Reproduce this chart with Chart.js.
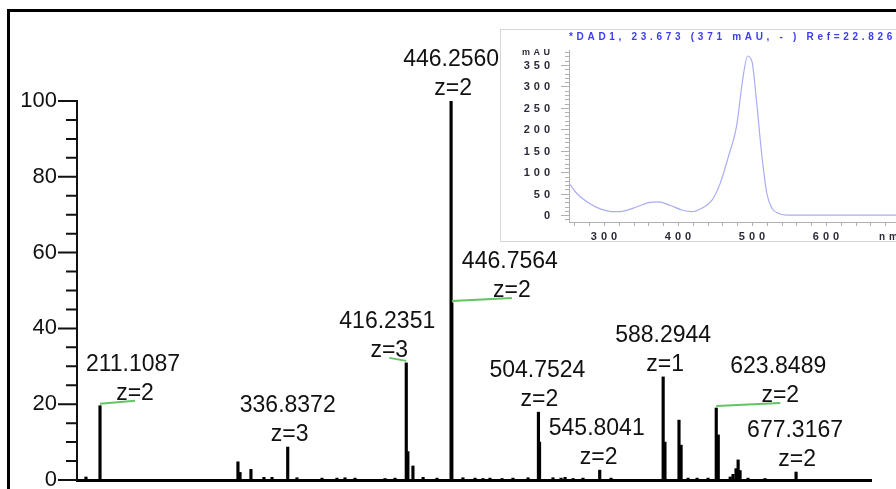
<!DOCTYPE html>
<html>
<head>
<meta charset="utf-8">
<script src="https://cdn.jsdelivr.net/npm/chart.js@4.4.1/dist/chart.umd.min.js"></script>
<style>
  html, body { margin: 0; padding: 0; width: 896px; height: 489px; overflow: hidden; background: #fff; }
  #frame { position: absolute; left: 7px; top: 9px; width: 1000px; height: 600px; border: 3px solid #000; box-sizing: border-box; }
  #ms { position: absolute; left: 0; top: 0; }
  #uvBox { position: absolute; left: 500px; top: 29px; width: 420px; height: 213px; border: 1px solid #d6d6d6; background: #fff; box-sizing: border-box; }
  #uv { position: absolute; left: 0; top: 0; }
</style>
</head>
<body>
<div id="frame"></div>
<canvas id="ms" width="896" height="489"></canvas>
<div id="uvBox"><canvas id="uv" width="395" height="211"></canvas></div>

<script>
// ---- Mass spectrum: annotated ions ----
const ionMz        = [211.1087, 336.8372, 416.2351, 446.2560, 446.7564, 504.7524, 545.8041, 588.2944, 623.8489, 677.3167];
const ionIntensity = [19.6, 8.7, 30.9, 100, 46.7, 17.9, 2.6, 27.2, 19.0, 2.1];
const ionCharge    = [2, 3, 3, 2, 2, 2, 2, 1, 2, 2];

// ---- Mass spectrum: remaining centroids (isotopes, shoulders, noise) ----
const minorMz = [201.7, 303.5, 304.9, 312.2, 320.9, 326.3, 343.0, 359.8, 369.8, 375.2, 381.9, 402.0, 408.7,
                 417.3, 420.7, 427.5, 436.8, 454.2, 462.3, 467.6, 472.3, 480.4, 487.7, 497.8, 505.5, 514.5,
                 519.9, 522.6, 528.0, 534.6, 553.4, 589.5, 598.9, 600.3, 605.0, 611.0, 618.4, 625.2, 633.2,
                 635.1, 637.1, 638.5, 639.8, 645.1, 656.5];
const minorIntensity = [0.8, 4.8, 2.0, 2.8, 0.7, 0.7, 0.6, 0.5, 0.5, 0.6, 0.5, 0.4, 0.5,
                        7.5, 3.7, 0.7, 0.5, 0.6, 0.5, 0.4, 0.5, 0.4, 0.5, 0.6, 10.0, 0.6,
                        0.5, 0.7, 0.4, 0.5, 0.5, 10.0, 15.8, 9.2, 0.5, 0.5, 0.5, 11.9, 0.8,
                        1.5, 3.0, 5.3, 2.5, 0.5, 0.4];

const yTickValues = [0, 20, 40, 60, 80, 100];

// ---- UV-Vis spectrum (DAD) ----
const uvNm  = [253, 263, 277, 290, 304, 315, 328, 344, 360, 373, 389, 405, 418, 432, 446, 457, 468, 479, 488, 494, 500, 506, 513, 520, 527, 536, 551, 600, 650, 695];
const uvMau = [74, 51, 31, 18, 10, 8, 10, 19, 29, 31, 23, 12, 8, 16, 35, 74, 136, 206, 323, 371, 358, 268, 144, 51, 16, 4, 0, 0, 0, 0];
const uvYLabels = [0, 50, 100, 150, 200, 250, 300, 350];
const uvXLabels = [300, 400, 500, 600];
const uvTitle = '*DAD1, 23.673 (371 mAU, - ) Ref=22.826';

// label placement (horizontal shift of each annotation, px) and which ions get an isotope marker
const labelShift = [33, 0, -19, 0, 58, -1, -3, 0, 62, -1];
const isotopeMarker = [true, false, true, false, true, false, false, false, true, false];

const msFont = '"Liberation Sans", Arial, Helvetica, sans-serif';

// ---------- mass spectrum ----------
const stickData = ionMz.map((x, i) => ({ x, y: ionIntensity[i] }))
  .concat(minorMz.map((x, i) => ({ x, y: minorIntensity[i] })))
  .sort((a, b) => a.x - b.x);

const msAxisTicks = {
  id: 'msAxisTicks',
  afterDraw(chart) {
    const ys = chart.scales.y, ctx = chart.ctx, left = chart.chartArea.left;
    ctx.save();
    ctx.strokeStyle = '#111';
    ctx.lineWidth = 2;
    ctx.beginPath();
    for (let v = 0; v <= 100; v += 5) {
      const y = ys.getPixelForValue(v);
      const len = yTickValues.includes(v) ? 19 : 11;
      ctx.moveTo(left - len, y);
      ctx.lineTo(left, y);
    }
    ctx.stroke();
    ctx.restore();
  }
};

const msAnnotations = {
  id: 'msAnnotations',
  afterDatasetsDraw(chart) {
    const xs = chart.scales.x, ys = chart.scales.y, ctx = chart.ctx;
    ctx.save();
    // isotope markers
    ctx.strokeStyle = '#62c462';
    ctx.lineWidth = 2;
    ionMz.forEach((mz, i) => {
      if (!isotopeMarker[i]) return;
      const px = xs.getPixelForValue(mz), py = ys.getPixelForValue(ionIntensity[i]);
      ctx.beginPath();
      ctx.moveTo(px, py - 2);
      ctx.lineTo(px + labelShift[i] + 2, py - 5);
      ctx.stroke();
    });
    // m/z and charge labels
    ctx.fillStyle = '#111';
    ctx.font = '23px ' + msFont;
    ctx.textAlign = 'center';
    ctx.textBaseline = 'alphabetic';
    ionMz.forEach((mz, i) => {
      const px = xs.getPixelForValue(mz), py = ys.getPixelForValue(ionIntensity[i]);
      const cx = px + labelShift[i];
      ctx.fillText(mz.toFixed(4), cx, py - 35);
      ctx.fillText('z=' + ionCharge[i], cx + 2, py - 6);
    });
    ctx.restore();
  }
};

new Chart(document.getElementById('ms'), {
  type: 'bar',
  data: {
    datasets: [{
      data: stickData,
      backgroundColor: '#000',
      borderWidth: 0,
      barThickness: 2.5
    }]
  },
  options: {
    responsive: false,
    animation: false,
    events: [],
    layout: { padding: { left: 0, top: 101, right: 25, bottom: 0 } },
    plugins: { legend: { display: false }, tooltip: { enabled: false } },
    scales: {
      x: {
        type: 'linear',
        min: 195.7,
        max: 727.5,
        offset: false,
        ticks: { display: false },
        grid: { display: false, offset: false },
        border: { display: true, color: '#000', width: 3 },
        afterFit(s) { s.height = 9; s.paddingLeft = 0; s.paddingRight = 0; }
      },
      y: {
        min: 0,
        max: 100,
        ticks: {
          stepSize: 20,
          autoSkip: false,
          padding: 3,
          color: '#111',
          font: { family: msFont, size: 22 },
          callback: v => (yTickValues.includes(v) ? String(v) : '')
        },
        grid: { display: true, drawOnChartArea: false, drawTicks: true, tickLength: 17, tickColor: 'rgba(0,0,0,0)' },
        border: { display: true, color: '#111', width: 2 },
        afterFit(s) { s.width = 77; s.paddingTop = 0; s.paddingBottom = 0; }
      }
    }
  },
  plugins: [msAxisTicks, msAnnotations]
});

// ---------- UV-Vis inset ----------
function drawSpaced(ctx, text, x, y, spacing, align) {
  const chars = Array.from(text);
  const widths = chars.map(c => ctx.measureText(c).width);
  const total = widths.reduce((a, b) => a + b, 0) + spacing * (chars.length - 1);
  let cx = align === 'right' ? x - total : align === 'center' ? x - total / 2 : x;
  ctx.textAlign = 'left';
  chars.forEach((c, i) => { ctx.fillText(c, cx, y); cx += widths[i] + spacing; });
}

const uvAxes = {
  id: 'uvAxes',
  afterDraw(chart) {
    const xs = chart.scales.x, ys = chart.scales.y, ctx = chart.ctx;
    const { left, bottom, right } = chart.chartArea;
    ctx.save();
    ctx.strokeStyle = '#b0b0b0';
    ctx.lineWidth = 1;
    ctx.beginPath();
    for (let v = -10; v <= 380; v += 10) {
      const y = Math.round(ys.getPixelForValue(v)) + 0.5;
      const len = v % 50 === 0 ? 8 : 4;
      ctx.moveTo(left - len, y);
      ctx.lineTo(left, y);
    }
    for (let v = 260; v <= 690; v += 20) {
      const x = Math.round(xs.getPixelForValue(v)) + 0.5;
      if (x > right) break;
      ctx.moveTo(x, bottom);
      ctx.lineTo(x, bottom + 4);
    }
    ctx.stroke();

    ctx.textBaseline = 'middle';
    ctx.fillStyle = '#2b2b3a';
    ctx.font = 'bold 11px "Liberation Sans", Arial, sans-serif';
    uvYLabels.forEach(v => drawSpaced(ctx, String(v), left - 19, ys.getPixelForValue(v) + 1, 4, 'right'));
    uvXLabels.forEach(v => drawSpaced(ctx, String(v), xs.getPixelForValue(v), 207, 4, 'center'));
    ctx.font = 'bold 10px "Liberation Sans", Arial, sans-serif';
    drawSpaced(ctx, 'nm', 378, 207, 4, 'left');
    ctx.font = 'bold 9px "Liberation Sans", Arial, sans-serif';
    drawSpaced(ctx, 'mAU', left - 19, 23, 3.5, 'right');

    ctx.fillStyle = '#3c3cf0';
    ctx.font = 'bold 10px "Liberation Sans", Arial, sans-serif';
    drawSpaced(ctx, uvTitle, left, 7, 3.7, 'left');
    ctx.restore();
  }
};

new Chart(document.getElementById('uv'), {
  type: 'line',
  data: {
    datasets: [{
      data: uvNm.map((x, i) => ({ x, y: uvMau[i] })),
      borderColor: '#a9adf4',
      borderWidth: 1.2,
      pointRadius: 0,
      cubicInterpolationMode: 'monotone',
      fill: false
    }]
  },
  options: {
    responsive: false,
    animation: false,
    events: [],
    layout: { padding: { left: 0, top: 20, right: 0, bottom: 0 } },
    plugins: { legend: { display: false }, tooltip: { enabled: false } },
    scales: {
      x: {
        type: 'linear', min: 252.7, max: 694.6,
        ticks: { display: false },
        grid: { display: false },
        border: { display: true, color: '#b0b0b0', width: 1 },
        afterFit(s) { s.height = 19; }
      },
      y: {
        min: -16, max: 385,
        ticks: { display: false },
        grid: { display: false },
        border: { display: true, color: '#b0b0b0', width: 1 },
        afterFit(s) { s.width = 68; }
      }
    }
  },
  plugins: [uvAxes]
});
</script>
</body>
</html>
